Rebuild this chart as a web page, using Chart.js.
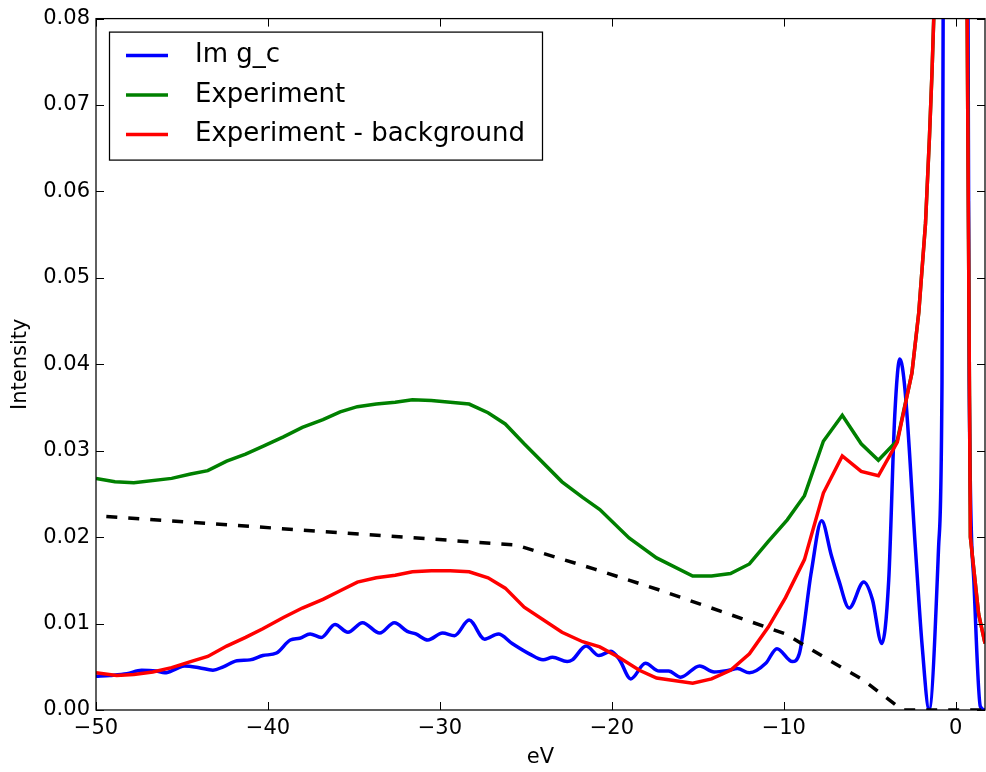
<!DOCTYPE html>
<html>
<head>
<meta charset="utf-8">
<script src="https://cdn.jsdelivr.net/npm/chart.js@4/dist/chart.umd.min.js"></script>
<style>
  body { margin: 0; background: #fff; }
</style>
</head>
<body>
<canvas id="myChart" width="986" height="772"></canvas>
<script>
// tick labels
const xTicks = [-50, -40, -30, -20, -10, 0];
const yTicks = [0, 0.01, 0.02, 0.03, 0.04, 0.05, 0.06, 0.07, 0.08];

// Im g_c (blue)
const imX = [-50, -49.2, -48.2, -47.35, -46.5, -46.0, -45.3, -44.85, -44.0, -43.2, -42.6, -41.8, -41.05, -40.3,
  -39.5, -38.7, -38.15, -37.55, -36.9, -36.1, -35.35, -34.5, -33.5, -32.65, -31.9, -31.4, -30.7, -29.85,
  -29.15, -28.3, -27.4, -26.6, -25.8, -24.8, -24.0, -23.45, -22.6, -22.3, -21.5, -20.75, -20.05, -19.55,
  -18.9, -18.05, -17.25, -16.7, -16.0, -14.9, -14.05, -13.2, -12.7, -12.0, -11.05, -10.4, -9.5, -9.1,
  -8.4, -7.8, -7.25, -6.8, -6.2, -5.35, -4.85, -4.3, -3.9, -3.55, -3.25, -2.95, -2.35, -1.95, -1.55,
  -1.0, -0.8, -0.72, 0.0, 0.7, 0.78, 1.05, 1.43, 1.7];
const imY = [0.0039, 0.0040, 0.0042, 0.0046, 0.0045, 0.0043, 0.0048, 0.0051, 0.0049, 0.0046, 0.0050, 0.0057, 0.0058, 0.0063,
  0.0066, 0.0081, 0.0083, 0.0088, 0.0084, 0.0099, 0.0090, 0.0101, 0.0089, 0.0101, 0.0091, 0.0088, 0.0081, 0.0089,
  0.0086, 0.0104, 0.0082, 0.0088, 0.0077, 0.0065, 0.0058, 0.0061, 0.0056, 0.0058, 0.0074, 0.0063, 0.0068, 0.0058,
  0.0036, 0.0054, 0.0045, 0.0045, 0.0038, 0.0051, 0.0044, 0.0046, 0.0048, 0.0043, 0.0054, 0.0071, 0.0056, 0.0065,
  0.0160, 0.0219, 0.0180, 0.0150, 0.0118, 0.0148, 0.0128, 0.0077, 0.0150, 0.0340, 0.0406, 0.0370, 0.0188, 0.0073, 0.0001,
  0.0188, 0.0380, 0.0900, 0.3000, 0.0900, 0.0380, 0.0150, 0.0004, 0.0];

// Experiment (green)
const expX = [-50, -48.9, -47.8, -45.6, -44.5, -43.5, -42.4, -41.3, -40.3, -39.1, -38.0, -36.8, -35.8, -34.8,
  -33.7, -32.6, -31.6, -30.5, -29.4, -28.3, -27.2, -26.2, -25.1, -22.9, -21.7, -20.7, -19.0, -17.4, -15.3,
  -14.2, -13.1, -12.0, -10.9, -9.8, -8.8, -7.7, -6.6, -5.5, -4.5, -3.4, -2.55, -2.15, -1.76, -1.53, -1.38,
  -1.2, -0.3, 0.6, 0.85, 1.33, 1.7];
const expY = [0.0268, 0.0264, 0.0263, 0.0268, 0.0273, 0.0277, 0.0288, 0.0296, 0.0305, 0.0316, 0.0327, 0.0336, 0.0345, 0.0351,
  0.0354, 0.0356, 0.0359, 0.0358, 0.0356, 0.0354, 0.0344, 0.0331, 0.0308, 0.0264, 0.0246, 0.0232, 0.0199, 0.0176, 0.0155,
  0.0155, 0.0158, 0.0169, 0.0195, 0.0220, 0.0248, 0.0311, 0.0341, 0.0308, 0.0289, 0.0312, 0.0390, 0.0460, 0.0563, 0.0663, 0.0739,
  0.0850, 0.2500, 0.1000, 0.0200, 0.0111, 0.0077];

// Experiment - background (red)
const subX = [-50, -48.8, -47.8, -46.7, -45.6, -44.5, -43.5, -42.4, -41.3, -40.3, -39.1, -38.0, -36.8, -35.8,
  -34.8, -33.7, -32.6, -31.6, -30.5, -29.4, -28.3, -27.2, -26.2, -25.1, -22.9, -21.7, -20.7, -19.6, -18.4,
  -17.4, -15.3, -14.2, -13.1, -12.0, -10.9, -9.9, -8.8, -7.7, -6.6, -5.5, -4.5, -3.4, -2.55, -2.15, -1.76,
  -1.53, -1.38, -1.2, -0.3, 0.6, 0.85, 1.33, 1.7];
const subY = [0.0043, 0.0040, 0.0041, 0.0044, 0.0049, 0.0056, 0.0062, 0.0074, 0.0084, 0.0094, 0.0107, 0.0118, 0.0128, 0.0138,
  0.0148, 0.0153, 0.0156, 0.0160, 0.0161, 0.0161, 0.0160, 0.0153, 0.0141, 0.0119, 0.0090, 0.0079, 0.0073, 0.0061, 0.0046,
  0.0037, 0.0031, 0.0036, 0.0046, 0.0065, 0.0096, 0.0130, 0.0174, 0.0251, 0.0294, 0.0276, 0.0271, 0.0310, 0.0390, 0.0460, 0.0563,
  0.0663, 0.0739, 0.0850, 0.2500, 0.1000, 0.0200, 0.0111, 0.0077];

// background (black dashed)
const bgX = [-49.4, -25.6, -21.0, -17.1, -13.2, -9.9, -7.4, -5.4, -3.5, -3.1, 1.7];
const bgY = [0.0224, 0.0191, 0.0163, 0.0138, 0.0111, 0.0088, 0.0058, 0.0035, 0.0006, 0.0, 0.0];

const pts = (xs, ys) => xs.map((v, i) => ({x: v, y: ys[i]}));
const font = 'DejaVu Sans';
const fmtX = v => (v < 0 ? '\u2212' + Math.abs(v) : String(v));

// frame with inward ticks + matplotlib style legend
const framePlugin = {
    id: 'frame',
    afterDatasetsDraw(chart) {
        const ctx = chart.ctx;
        const a = chart.chartArea;
        const sx = chart.scales.x, sy = chart.scales.y;
        ctx.save();
        ctx.strokeStyle = '#000';
        ctx.lineWidth = 1.25;
        ctx.strokeRect(a.left, a.top, a.right - a.left, a.bottom - a.top);
        ctx.lineWidth = 1;
        ctx.beginPath();
        sx.ticks.forEach(t => {
            const px = Math.round(sx.getPixelForValue(t.value)) + 0.5;
            ctx.moveTo(px, a.bottom); ctx.lineTo(px, a.bottom - 8);
            ctx.moveTo(px, a.top); ctx.lineTo(px, a.top + 8);
        });
        sy.ticks.forEach(t => {
            const py = Math.round(sy.getPixelForValue(t.value)) + 0.5;
            ctx.moveTo(a.left, py); ctx.lineTo(a.left + 8, py);
            ctx.moveTo(a.right, py); ctx.lineTo(a.right - 8, py);
        });
        ctx.stroke();

        // legend
        const items = chart.data.datasets.filter(d => d.inLegend);
        const lx = a.left + 13, ly = a.top + 13, lw = 433, lh = 128;
        ctx.fillStyle = '#fff';
        ctx.fillRect(lx, ly, lw, lh);
        ctx.lineWidth = 1.25;
        ctx.strokeRect(lx + 0.5, ly + 0.5, lw, lh);
        ctx.font = '26px "' + font + '"';
        ctx.textBaseline = 'middle';
        items.forEach((d, i) => {
            const yy = ly + 24 + i * 39.5;
            ctx.strokeStyle = d.borderColor;
            ctx.lineWidth = 3.5;
            ctx.beginPath();
            ctx.moveTo(lx + 17, yy); ctx.lineTo(lx + 59, yy);
            ctx.stroke();
            ctx.fillStyle = '#000';
            ctx.fillText(d.label, lx + 86, yy);
        });
        ctx.restore();
    }
};

const cht = document.getElementById('myChart').getContext('2d');
const myChart = new Chart(cht, {
    type: 'line',
    data: {
        datasets: [{
            label: 'Im g_c',
            data: pts(imX, imY),
            borderColor: '#0000ff',
            borderWidth: 3.5,
            cubicInterpolationMode: 'monotone',
            order: 3,
            inLegend: true
        }, {
            label: 'Experiment',
            data: pts(expX, expY),
            borderColor: '#008000',
            borderWidth: 3.5,
            order: 2,
            inLegend: true
        }, {
            label: 'Experiment - background',
            data: pts(subX, subY),
            borderColor: '#ff0000',
            borderWidth: 3.5,
            order: 1,
            inLegend: true
        }, {
            label: 'background',
            data: pts(bgX, bgY),
            borderColor: '#000000',
            borderWidth: 3.5,
            borderDash: [11, 11],
            order: 0,
            inLegend: false
        }]
    },
    options: {
        responsive: false,
        animation: false,
        devicePixelRatio: 1,
        clip: 0,
        elements: {
            point: { radius: 0, hoverRadius: 0 },
            line: { tension: 0, fill: false, borderCapStyle: 'butt' }
        },
        layout: { padding: { top: 14, right: 1, left: 0, bottom: 0 } },
        plugins: {
            legend: { display: false },
            tooltip: { enabled: false }
        },
        scales: {
            x: {
                type: 'linear',
                min: -50,
                max: 1.7,
                afterBuildTicks: s => { s.ticks = xTicks.map(v => ({value: v})); },
                afterFit: s => { s.height = 62; },
                grid: { display: false, drawTicks: false },
                border: { display: false },
                ticks: {
                    color: '#000',
                    padding: 6,
                    font: { family: font, size: 21 },
                    maxRotation: 0,
                    callback: v => fmtX(v)
                },
                title: {
                    display: true,
                    text: 'eV',
                    color: '#000',
                    font: { family: font, size: 21 },
                    padding: { top: 0, bottom: 2 }
                }
            },
            y: {
                min: 0,
                max: 0.08,
                afterBuildTicks: s => { s.ticks = yTicks.map(v => ({value: v})); },
                afterFit: s => { s.width = 96; },
                grid: { display: false, drawTicks: false },
                border: { display: false },
                ticks: {
                    color: '#000',
                    padding: 6,
                    font: { family: font, size: 21 },
                    callback: v => v.toFixed(2)
                },
                title: {
                    display: true,
                    text: 'Intensity',
                    color: '#000',
                    font: { family: font, size: 21 },
                    padding: { top: 8, bottom: 0 }
                }
            }
        }
    },
    plugins: [framePlugin]
});
</script>
</body>
</html>
